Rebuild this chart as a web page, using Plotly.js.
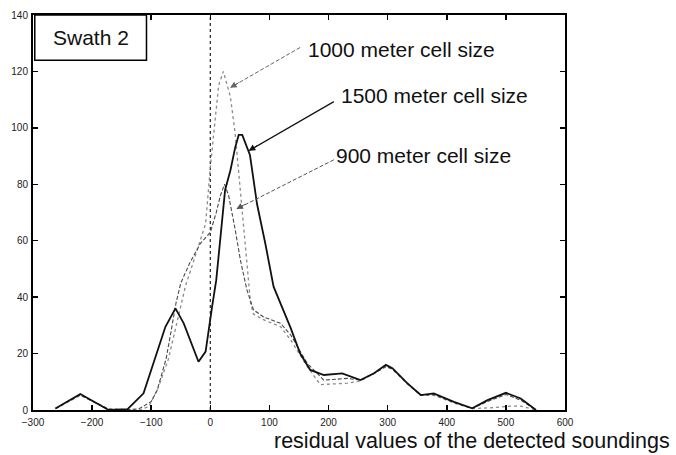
<!DOCTYPE html>
<html>
<head>
<meta charset="utf-8">
<script src="https://cdn.plot.ly/plotly-3.0.1.min.js"></script>
<style>html,body{margin:0;padding:0;background:#fff;}#chart{width:676px;height:455px;}</style>
</head>
<body>
<div id="chart"></div>
<script>
// Series
var x1500 = [-262,-220,-172,-140,-113,-93,-76,-59,-45,-20,-8,3,10,25,34,42,48,54,67,79,93,107,124,136,152,169,192,223,254,277,297,308,333,356,378,412,443,469,500,525,551];
var y1500 = [0.5,5.7,0,0.3,5.9,18.9,29.5,36,30.7,17.1,20.7,36.6,46,78,85,93,97.5,97.5,90.4,73,59,43.7,35,29,20,14.2,12.4,13,10.6,13,16,14.8,9.5,5.3,5.9,2.9,0.6,3.5,6.1,4.1,0];

var x900 = [-262,-220,-172,-140,-120,-100,-90,-75,-68,-58,-50,-35,-17,0,10,17,24,31,42,51,62,73,90,119,136,164,192,232,254,277,297,308,333,356,378,412,443,469,500,525,551];
var y900 = [0.5,5.3,0.3,0,0.5,3,7,18,26,38,45,52,59,63,70,76,80,76,64,53,42.5,35.5,33,30.7,26.6,16.5,10.6,11.2,10.6,13,15.5,14.5,9.5,5.3,5.5,2.7,0.6,3,5.5,3.5,0];

var x1000 = [-262,-220,-172,-140,-120,-104,-88,-71,-56,-42,-31,-17,-8,0,8,14,22,34,42,50,57,62,68,73,90,119,136,164,186,232,254,277,297,308,333,356,378,412,443,475,508,525,551];
var y1000 = [0.5,5.2,0.3,0,0,1.2,8,18,32,44,51,60,66,86,104,115,120,111,98,80,64,52,38,34,32,29.5,24.8,15.4,9,9.5,10.3,13,15.3,14.5,9.3,5.2,5.2,2.5,0.5,0.8,1.4,1.4,0];

var xTicks = [-300,-200,-100,0,100,200,300,400,500,600];
var yTicks = [0,20,40,60,80,100,120,140];

var labels = ["1000 meter cell size","1500 meter cell size","900 meter cell size"];
var boxLabel = "Swath 2";
var xTitle = "residual values of the detected soundings";

var traces = [
  {x:[0,0], y:[0,140], mode:'lines', line:{color:'#333', width:1.3, dash:'dot'}, hoverinfo:'skip', showlegend:false},
  {x:x1000, y:y1000, mode:'lines', name:labels[0], line:{color:'#8a8a8a', width:1.3, dash:'dot'}},
  {x:x900, y:y900, mode:'lines', name:labels[2], line:{color:'#4a4a4a', width:1.1, dash:'4px,2px'}},
  {x:x1500, y:y1500, mode:'lines', name:labels[1], line:{color:'#111', width:1.8}}
];

var tickFont = {family:'Liberation Sans, Arial, sans-serif', size:10, color:'#222'};
var bigFont = {family:'Liberation Sans, Arial, sans-serif', size:21, color:'#111'};

var axisCommon = {showline:true, linecolor:'#000', linewidth:2, mirror:'allticks', ticks:'inside', ticklen:5, tickwidth:1.5, tickcolor:'#000', showgrid:false, zeroline:false, tickfont:tickFont, fixedrange:true};

function arrowHead(x, y, ax, ay, color){
  return {x:x, y:y, xref:'x', yref:'y', ax:ax, ay:ay, text:'', showarrow:true, arrowhead:2, arrowsize:1.3, arrowwidth:1, arrowcolor:color};
}

var layout = {
  width:676, height:455,
  margin:{l:33, r:111, t:15, b:45},
  paper_bgcolor:'#fff', plot_bgcolor:'#fff',
  showlegend:false,
  xaxis:Object.assign({}, axisCommon, {range:[-300,600], tickvals:xTicks, ticklabelstandoff:2}),
  yaxis:Object.assign({}, axisCommon, {range:[0,140], tickvals:yTicks, ticklabelstandoff:1}),
  shapes:[
    {type:'rect', xref:'x', yref:'y', x0:-297, x1:-108, y0:124, y1:140, line:{color:'#000', width:1.5}, fillcolor:'#fff'},
    {type:'line', xref:'x', yref:'y', x0:152, y0:128.5, x1:35, y1:114.4, line:{color:'#666', width:1, dash:'4px,2px'}},
    {type:'line', xref:'x', yref:'y', x0:209, y0:109.3, x1:66, y1:92, line:{color:'#111', width:1.2}},
    {type:'line', xref:'x', yref:'y', x0:209, y0:88.7, x1:45, y1:71.3, line:{color:'#555', width:1, dash:'4px,2px'}}
  ],
  annotations:[
    {x:-202.5, y:132, xref:'x', yref:'y', text:boxLabel, showarrow:false, font:bigFont},
    {x:323.5, y:127.7, xref:'x', yref:'y', text:labels[0], showarrow:false, font:bigFont},
    {x:379.5, y:111.3, xref:'x', yref:'y', text:labels[1], showarrow:false, font:bigFont},
    {x:361, y:90.1, xref:'x', yref:'y', text:labels[2], showarrow:false, font:bigFont},
    arrowHead(33.5, 114.2, 10, -6, '#666'),
    arrowHead(65, 91.9, 10, -6, '#111'),
    arrowHead(44, 71.2, 10, -5.5, '#555'),
    {x:1.2, y:-0.111, xref:'paper', yref:'paper', xanchor:'right', yanchor:'bottom', borderpad:0, text:xTitle, showarrow:false, font:{family:'Liberation Sans, Arial, sans-serif', size:21.5, color:'#111'}}
  ]
};

Plotly.newPlot('chart', traces, layout, {displayModeBar:false, staticPlot:true});
</script>
</body>
</html>
